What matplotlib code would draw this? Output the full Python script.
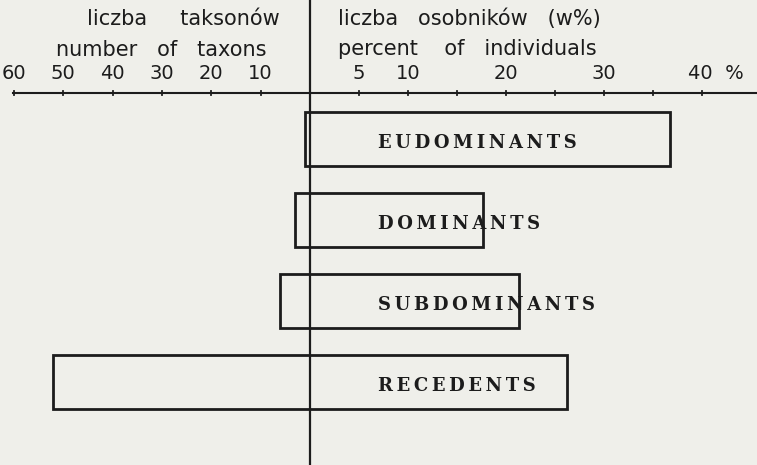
import numpy as np
import matplotlib
matplotlib.use("Agg")
import matplotlib.pyplot as plt

# dominance classes: number of taxa (left) and percent of individuals (right)
groups = ['EUDOMINANTS', 'DOMINANTS', 'SUBDOMINANTS', 'RECEDENTS']
taxa = [1, 3, 6, 52]
percent = [36.7, 17.7, 21.3, 26.2]

taxa_ticks = [60, 50, 40, 30, 20, 10]
pct_ticks = [5, 10, 20, 30, 40]
pct_minor = [15, 25, 35]

# left side scale: one taxon takes half the width of one percent
k = 0.503

ink = '#1c1c1c'
bg = '#efefea'

fig = plt.figure(figsize=(7.57, 4.65), dpi=100, facecolor=bg)
ax = fig.add_axes([0, 0, 1, 1])
ax.set_facecolor(bg)
ax.set_xlim(-31.6, 45.6)
ax.set_ylim(4.03, -1.72)
ax.axis('off')

y = np.arange(len(groups))
left = -np.array(taxa) * k
width = np.array(percent) - left
ax.barh(y, width, left=left, height=0.67, facecolor='none',
        edgecolor=ink, linewidth=2.0)

for i, g in enumerate(groups):
    spaced = '\u2009'.join(g)
    ax.text(6.9, y[i] + 0.05, spaced, ha='left', va='center', fontsize=13,
            fontweight='bold', family='DejaVu Serif', color=ink)

# axes lines
ax.axvline(0, color=ink, lw=1.6)
y_ax = -0.57
ax.plot([-30.3, 45.6], [y_ax, y_ax], color=ink, lw=1.5)
for t in taxa_ticks:
    ax.plot([-t * k] * 2, [y_ax - 0.03, y_ax + 0.03], color=ink, lw=1.3)
    ax.text(-t * k, y_ax - 0.12, str(t), ha='center', va='bottom',
            fontsize=14, color=ink)
for t in pct_ticks + pct_minor:
    ax.plot([t] * 2, [y_ax - 0.03, y_ax + 0.03], color=ink, lw=1.3)
for t in pct_ticks:
    lab = '40  %' if t == 40 else str(t)
    x = t - 1.4 if t == 40 else t
    ax.text(x, y_ax - 0.12, lab, ha='left' if t == 40 else 'center',
            va='bottom', fontsize=14, color=ink)

ax.text(-12.9, -1.48, 'liczba     taksonów', ha='center', va='center',
        fontsize=15, color=ink)
ax.text(-15.2, -1.1, 'number   of   taxons', ha='center', va='center',
        fontsize=15, color=ink)
ax.text(2.9, -1.49, 'liczba   osobników   (w%)', ha='left', va='center',
        fontsize=15, color=ink)
ax.text(2.9, -1.12, 'percent    of   individuals', ha='left', va='center',
        fontsize=15, color=ink)

fig.savefig('out.png', dpi=100, facecolor=bg)
